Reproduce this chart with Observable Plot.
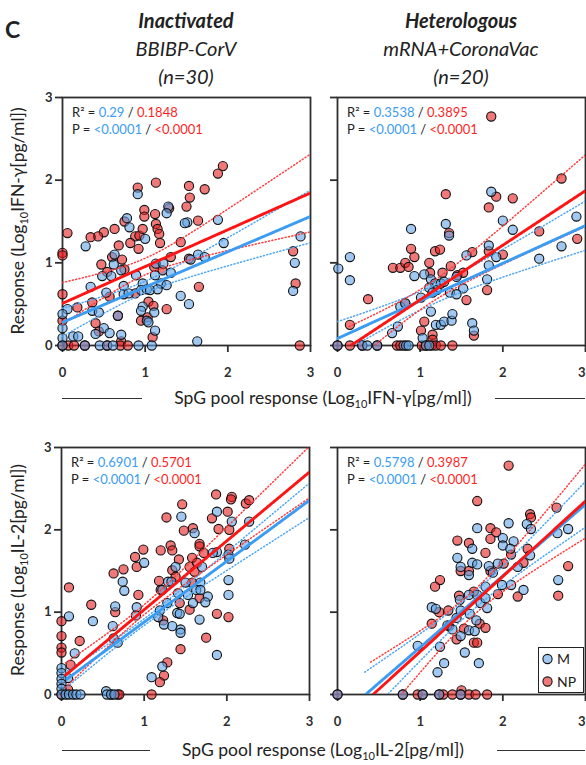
<!DOCTYPE html>
<html><head><meta charset="utf-8">
<script src="https://cdn.jsdelivr.net/npm/d3@7"></script>
<script src="https://cdn.jsdelivr.net/npm/@observablehq/plot@0.6"></script>
<style>
html,body{margin:0;padding:0;background:#fff;overflow:hidden;}
#fig{position:relative;width:586px;height:765px;font-family:Lato,"Open Sans",sans-serif;color:#222;overflow:hidden;}
.abs{position:absolute;}
.ttl{position:absolute;width:300px;margin-left:-150px;text-align:center;font-size:20px;font-style:italic;line-height:28px;white-space:nowrap;}
.axt{position:absolute;font-size:17.5px;white-space:nowrap;transform:translate(-50%,-50%);line-height:20px;}
.axt sub{font-size:11px;vertical-align:-4px;line-height:0;}
.bar{position:absolute;height:0;border-top:1.6px solid #333;}
.fit{position:absolute;font-size:13px;line-height:16.5px;white-space:nowrap;color:#222;}
.fit .m{color:#3a9cf2;} .fit .n{color:#ff1f1f;}
</style></head>
<body><div id="fig"></div>
<script>
// ---------------- data ----------------
const groupNames = ["Inactivated", "Heterologous"];
const groupVaccines = ["BBIBP-CorV", "mRNA+CoronaVac"];
const groupN = ["(n=30)", "(n=20)"];
const cytokines = ["IFN-γ", "IL-2"];
const tickValues = [0, 1, 2, 3];

// [x, y] = [SpG pool response, response] (log10 pg/ml)
const ifnInactM = [[0.91,1.83],[1.28,1.68],[1.26,1.60],[1.88,1.52],[1.51,1.49],[1.48,1.48],[0.78,1.54],[0.81,1.43],[1.00,1.29],[1.95,1.24],[0.28,1.20],[0.63,1.10],[0.62,0.98],[0.71,0.91],[1.13,0.99],[1.22,0.99],[1.31,0.88],[1.64,1.10],[1.72,1.07],[1.55,1.04],[1.12,0.85],[0.89,0.85],[0.48,0.84],[0.59,0.84],[0.34,0.71],[0.74,0.72],[0.97,0.75],[1.19,0.75],[1.26,0.73],[1.43,0.60],[1.53,0.50],[0.74,0.62],[0.80,0.63],[0.53,0.64],[0.95,0.67],[1.02,0.68],[1.06,0.67],[1.15,0.68],[0.06,0.44],[0,0.38],[0.36,0.42],[0.44,0.40],[0.97,0.47],[0.95,0.42],[1.02,0.30],[1.04,0.28],[1.11,0.40],[0.67,0.36],[0,0.21],[0.40,0.14],[0.50,0.21],[0.57,0.15],[0.13,0.11],[0.19,0.11],[0.71,0.13],[1.12,0.18],[0,0.09],[1.63,0.05],[2.79,0.66],[2.81,1.00],[2.88,1.32],[0,0],[0.27,0],[0.45,0],[0.54,0],[0.61,0],[0.92,0],[1.08,0]];
const ifnInactNP = [[1.94,2.17],[1.88,2.08],[1.13,1.97],[0.91,1.91],[1.53,1.93],[1.72,1.89],[1.54,1.79],[0.99,1.64],[1.29,1.66],[1.50,1.68],[1.64,1.51],[1.12,1.59],[0.99,1.56],[0.75,1.50],[0.63,1.41],[0.50,1.37],[0.43,1.32],[0.34,1.31],[0.06,1.36],[0,1.12],[0,1.09],[0.88,1.32],[0.93,1.33],[0.97,1.41],[1.13,1.47],[1.15,1.41],[1.17,1.35],[1.18,1.24],[0.68,1.21],[0.82,1.24],[0.92,1.17],[1.43,1.25],[1.31,1.07],[0.60,1.07],[0.72,1.04],[0.47,0.98],[0.75,0.92],[0.54,0.89],[1.53,1.05],[1.11,0.95],[1.21,0.91],[2.79,1.14],[2.82,0.75],[1.65,0.71],[0.57,0.59],[0,0.62],[0.18,0.46],[0.36,0.52],[1.04,0.53],[0.88,0.63],[1.26,0.44],[0.40,0.27],[0.95,0.30],[1.03,0.34],[1.09,0.10],[0,0.30],[0.44,0.17],[0.71,0.05],[0.67,0.36],[1.10,0.48],[0,0],[0.07,0],[0.14,0],[0.27,0],[0.54,0],[0.70,0],[0.79,0],[2.87,0]];
const ifnHeteroM = [[1.86,1.86],[1.31,1.47],[2.00,1.51],[2.12,1.40],[2.89,1.56],[0.89,1.41],[1.35,1.33],[1.83,1.21],[1.56,1.09],[1.92,1.07],[2.44,1.05],[2.71,1.20],[1.83,0.97],[0.15,1.07],[0.15,0.79],[0.01,0.93],[0.93,0.84],[1.05,0.86],[1.13,0.80],[1.18,0.75],[1.20,0.67],[1.25,0.75],[1.29,0.77],[1.11,0.70],[1.15,0.64],[1.44,0.83],[1.52,0.69],[1.36,0.64],[1.44,0.62],[1.81,0.80],[1.01,0.58],[0.76,0.47],[0.82,0.51],[0.73,0.23],[0.66,0.15],[1.13,0.41],[1.19,0.25],[1.25,0.25],[1.29,0.29],[1.38,0.30],[1.39,0.38],[1.63,0.27],[1.65,0.18],[1.03,0.09],[0,0],[0.30,0],[0.36,0],[0.48,0],[0.80,0],[0.83,0],[0.86,0],[1.07,0],[1.11,0]];
const ifnHeteroNP = [[1.86,2.77],[2.71,2.02],[1.31,1.83],[1.92,1.80],[2.12,1.78],[1.83,1.67],[2.44,1.38],[2.90,1.29],[1.35,1.36],[0.89,1.17],[0.93,1.07],[1.18,1.14],[1.24,1.16],[1.63,1.13],[1.83,1.14],[2.00,1.10],[0.67,0.94],[0.76,0.94],[0.82,1.00],[0.86,0.95],[1.11,1.00],[1.12,0.88],[1.27,0.88],[1.37,0.96],[1.45,0.85],[1.52,0.88],[1.81,0.67],[0.37,0.56],[1.56,0.55],[0.15,0.25],[1.05,0.29],[1.01,0.18],[1.15,0.13],[1.15,0.07],[1.65,0.12],[0.82,0.51],[0,0],[0.15,0],[0.30,0],[0.48,0],[0.72,0],[0.76,0],[1.02,0],[1.07,0],[1.14,0],[1.19,0],[1.25,0],[1.39,0]];
const il2InactM = [[1.88,2.22],[1.45,2.16],[1.61,1.96],[1.00,1.60],[1.38,1.55],[1.88,1.73],[1.83,1.72],[2.02,1.70],[2.03,1.65],[2.22,1.82],[2.27,2.10],[2.06,2.10],[0.74,1.37],[0.76,1.26],[1.29,1.37],[1.33,1.37],[1.50,1.36],[1.68,1.36],[1.63,1.27],[1.68,1.27],[1.22,1.27],[1.41,1.23],[1.53,1.21],[1.70,1.55],[1.77,1.19],[1.28,1.11],[1.59,1.11],[1.74,1.12],[0.91,1.06],[0.65,1.07],[1.19,1.02],[1.40,0.99],[1.43,0.98],[2.02,1.21],[2.02,1.39],[0.38,0.89],[0.09,0.95],[0.90,0.96],[1.17,0.94],[1.67,0.91],[1.24,0.85],[1.34,0.83],[1.44,0.79],[1.44,0.75],[0.62,0.83],[0.63,0.68],[0.68,0.63],[0.16,0.50],[1.88,0.48],[1.22,0.34],[1.09,0.21],[0.08,0.20],[0,0.32],[0,0.26],[0,0.19],[0,0.13],[0,0.07],[0.54,0.04],[0,0],[0.05,0],[0.09,0],[0.14,0],[0.18,0],[0.23,0],[0.55,0],[0.60,0],[0.64,0]];
const il2InactNP = [[1.87,2.43],[2.06,2.40],[2.05,2.37],[2.23,2.32],[2.27,2.36],[1.46,2.31],[1.82,2.14],[2.01,2.22],[1.27,2.15],[1.59,2.02],[1.48,1.99],[1.90,2.01],[2.03,2.00],[1.32,1.81],[1.34,1.75],[1.67,1.83],[1.67,1.80],[0.99,1.76],[0.89,1.67],[1.20,1.75],[1.72,1.72],[1.42,1.64],[1.58,1.66],[2.03,1.77],[0.75,1.52],[0.91,1.55],[0.63,1.47],[1.34,1.51],[1.38,1.43],[1.55,1.55],[1.64,1.60],[1.61,1.49],[1.18,1.38],[1.20,1.27],[1.58,1.36],[0.93,1.21],[0.09,1.30],[0.36,1.09],[0.65,1.00],[1.43,1.11],[1.67,1.17],[1.55,1.03],[1.23,0.90],[1.88,0.98],[2.02,0.94],[0,0.89],[0,0.71],[0,0.57],[0,0.51],[0.22,0.65],[0.11,0.36],[1.75,0.69],[1.44,0.55],[1.28,0.39],[1.24,0.23],[1.19,0.15],[0.08,0.06],[1.09,0],[0,0],[0.60,0],[0.68,0],[0.70,0]];
const il2HeteroM = [[1.69,2.02],[2.07,2.08],[2.29,2.07],[2.34,2.01],[2.79,2.01],[2.66,1.96],[2.00,1.90],[2.13,1.86],[2.00,1.81],[2.09,1.77],[1.63,1.77],[1.45,1.66],[1.63,1.60],[1.69,1.58],[1.94,1.59],[1.49,1.55],[1.83,1.56],[1.88,1.48],[1.59,1.45],[2.18,1.55],[2.33,1.69],[2.67,1.39],[1.99,1.33],[2.10,1.33],[2.25,1.27],[1.79,1.31],[1.59,1.21],[1.69,1.21],[1.48,1.15],[1.73,1.11],[1.79,1.17],[1.14,1.06],[1.19,1.04],[1.49,1.02],[1.81,1.05],[1.60,0.98],[1.44,0.93],[1.68,0.90],[1.33,0.84],[1.39,0.79],[1.59,0.78],[1.66,0.77],[1.49,0.71],[0.97,0.59],[1.24,0.58],[1.54,0.51],[1.29,0.38],[1.71,0.38],[1.21,0.27],[0,0],[0.79,0],[1.03,0],[1.23,0],[1.49,0]];
const il2HeteroNP = [[2.07,2.78],[1.69,2.35],[2.65,2.27],[2.33,2.19],[2.34,2.15],[1.85,2.02],[1.92,1.97],[1.45,1.87],[1.59,1.84],[1.85,1.89],[2.10,1.70],[2.30,1.77],[1.79,1.72],[2.01,1.59],[2.25,1.60],[2.79,1.56],[1.49,1.50],[1.59,1.50],[1.85,1.50],[1.24,1.39],[1.18,1.31],[1.47,1.20],[1.65,1.25],[1.94,1.22],[2.18,1.19],[2.67,1.20],[1.34,1.02],[1.23,1.00],[1.14,0.86],[1.35,0.83],[1.53,0.80],[1.72,0.86],[1.79,0.81],[1.44,0.67],[1.65,0.63],[1.69,0.63],[1.50,0.05],[0,0],[0.79,0],[0.97,0],[1.03,0],[1.23,0],[1.28,0],[1.39,0],[1.49,0],[1.59,0],[1.67,0],[1.81,0]];

// fitted regression lines (panel order: IFN inact, IFN hetero, IL-2 inact, IL-2 hetero)
const fitInterceptM  = [0.28, 0.085, 0.139, -0.295];
const fitSlopeM      = [0.427, 0.455, 0.74, 0.868];
const fitInterceptNP = [0.51, -0.107, 0.194, -0.393];
const fitSlopeNP     = [0.445, 0.66, 0.836, 0.914];
// 95% confidence band: half-width = sqrt(min^2 + spread^2 * (x - center)^2)
const ciMinM      = [0.07, 0.11, 0.04, 0.10];
const ciCenterM   = [1.0, 1.15, 0.95, 1.67];
const ciSpreadM   = [0.155, 0.15, 0.10, 0.195];
const ciMinNP     = [0.10, 0.12, 0.06, 0.15];
const ciCenterNP  = [1.0, 1.1, 0.95, 1.65];
const ciSpreadNP  = [0.23, 0.22, 0.15, 0.314];
const fitStartM   = [0, 0, 0.07, 0.33];
const fitStartNP  = [0, 0.14, 0.05, 0.40];

const r2M  = ["0.29", "0.3538", "0.6901", "0.5798"];
const r2NP = ["0.1848", "0.3895", "0.5701", "0.3987"];
const pM   = ["<0.0001", "<0.0001", "<0.0001", "<0.0001"];
const pNP  = ["<0.0001", "<0.0001", "<0.0001", "<0.0001"];
const seriesNames = ["M", "NP"];

// ---------------- drawing ----------------
const fig = document.getElementById("fig");
const COL = {mFill:"#61a3e6", nFill:"#e61e1e", mLine:"#3a9cf2", nLine:"#ff1414", mDot:"#4ea6f5", nDot:"#ff3b3b", axis:"#2e2e2e"};

function band(a, b, h, xm, k, x0) {
  return d3.range(x0, 3.0001, 0.01).map(x => {
    const f = a + b * x, hw = Math.sqrt(h * h + k * k * (x - xm) * (x - xm));
    return {x, fit: f, lo: f - hw, hi: f + hw};
  });
}

const datasets = [[ifnInactM, ifnInactNP], [ifnHeteroM, ifnHeteroNP], [il2InactM, il2InactNP], [il2HeteroM, il2HeteroNP]];
// panel placement (svg box and margins)
const boxes = [
  {left:0,   top:80,  w:320, h:300, ml:62, mr:10, mt:17, mb:35, left0:true},
  {left:320, top:80,  w:266, h:300, ml:17, mr:1,  mt:17, mb:35, left0:false},
  {left:0,   top:430, w:320, h:300, ml:61, mr:11, mt:17, mb:36, left0:true},
  {left:320, top:430, w:266, h:300, ml:17, mr:1,  mt:17, mb:36, left0:false}
];

datasets.forEach(([M, NP], i) => {
  const B = boxes[i];
  const bM = band(fitInterceptM[i], fitSlopeM[i], ciMinM[i], ciCenterM[i], ciSpreadM[i], fitStartM[i]);
  const bN = band(fitInterceptNP[i], fitSlopeNP[i], ciMinNP[i], ciCenterNP[i], ciSpreadNP[i], fitStartNP[i]);
  const dotted = {strokeWidth: 1.5, strokeDasharray: "1,2.4", clip: true};
  const xAxes = B.left0
    ? [Plot.axisX({ticks: tickValues, tickSize: 7, tickPadding: 15, tickFormat: d => String(d), label: null, strokeWidth: 1.8})]
    : [Plot.axisX({ticks: tickValues, tickSize: 7, tickPadding: 15, tickFormat: d => (d === 3 ? "" : String(d)), label: null, strokeWidth: 1.8}),
       Plot.axisX({ticks: [3], tickSize: 0, tickPadding: 22, tickFormat: d => String(d), textAnchor: "end", dx: 0, label: null})];
  const svg = Plot.plot({
    width: B.w, height: B.h,
    marginLeft: B.ml, marginRight: B.mr, marginTop: B.mt, marginBottom: B.mb,
    style: {fontFamily: "Lato, sans-serif", fontSize: "13px", fontWeight: "bold", color: COL.axis, background: "transparent", overflow: "visible"},
    x: {domain: [0, 3]},
    y: {domain: [0, 3]},
    marks: [
      Plot.frame({stroke: COL.axis, strokeWidth: 1.8}),
      ...xAxes,
      Plot.axisY({ticks: tickValues, tickSize: 7, tickPadding: 3, tickFormat: B.left0 ? (d => String(d)) : (() => ""), label: null, strokeWidth: 1.8}),
      Plot.dot(NP, {x: d => d[0], y: d => d[1], r: 4.6, fill: COL.nFill, fillOpacity: 0.6, stroke: "#111", strokeWidth: 1.1}),
      Plot.dot(M,  {x: d => d[0], y: d => d[1], r: 4.6, fill: COL.mFill, fillOpacity: 0.6, stroke: "#111", strokeWidth: 1.1}),
      Plot.line(bM, {x: "x", y: "hi", stroke: COL.mDot, ...dotted}),
      Plot.line(bM, {x: "x", y: "lo", stroke: COL.mDot, ...dotted}),
      Plot.line(bN, {x: "x", y: "hi", stroke: COL.nDot, ...dotted}),
      Plot.line(bN, {x: "x", y: "lo", stroke: COL.nDot, ...dotted}),
      Plot.line(bM, {x: "x", y: "fit", stroke: COL.mLine, strokeWidth: 2.9, clip: true}),
      Plot.line(bN, {x: "x", y: "fit", stroke: COL.nLine, strokeWidth: 2.9, clip: true})
    ]
  });
  const wrap = document.createElement("div");
  wrap.className = "abs";
  wrap.style.left = B.left + "px";
  wrap.style.top = B.top + "px";
  wrap.appendChild(svg);
  fig.appendChild(wrap);

  // fit statistics text
  const t = document.createElement("div");
  t.className = "fit";
  t.style.left = (B.left + B.ml + 10) + "px";
  t.style.top = (B.top + B.mt + 7) + "px";
  t.innerHTML = `R² = <span class="m">${r2M[i]}</span> / <span class="n">${r2NP[i]}</span><br>P = <span class="m">${pM[i]}</span> / <span class="n">${pNP[i]}</span>`;
  fig.appendChild(t);
});

// headings
const add = (html, cls, style) => { const d = document.createElement("div"); d.className = cls; d.innerHTML = html; Object.assign(d.style, style); fig.appendChild(d); return d; };
add("C", "abs", {left: "5px", top: "15px", fontSize: "23px", fontWeight: "bold", lineHeight: "28px"});
[186, 461].forEach((cx, g) => {
  add(`<b>${groupNames[g]}</b><br>${groupVaccines[g]}<br>${groupN[g]}`, "ttl", {left: cx + "px", top: "6px"});
});

// axis titles
[[398, 0], [750, 1]].forEach(([cy, c]) => {
  add(`SpG pool response (Log<sub>10</sub>${cytokines[c]}[pg/ml])`, "axt", {left: "323px", top: cy + "px"});
  add("", "bar", {left: "62px", width: (c ? 88 : 80) + "px", top: cy + "px"});
  add("", "bar", {left: (c ? 497 : 495) + "px", width: (c ? 88 : 90) + "px", top: cy + "px"});
});
[[221, 0], [570, 1]].forEach(([cy, c]) => {
  const d = add(`Response (Log<sub>10</sub>${cytokines[c]}[pg/ml])`, "axt", {left: "18px", top: cy + "px"});
  d.style.transform = "translate(-50%,-50%) rotate(-90deg)";
});

// legend
const lg = add("", "abs", {left: "538px", top: "647px", width: "46px", height: "46px", border: "1.6px solid #222", background: "#fff", boxSizing: "border-box"});
lg.innerHTML = `<svg width="46" height="46" style="position:absolute;left:-1.6px;top:-1.6px;overflow:visible">
  <circle cx="10.5" cy="13" r="4.6" fill="${COL.mFill}" fill-opacity="0.6" stroke="#111" stroke-width="1.1"/>
  <text x="20" y="18" font-family="Lato" font-size="14" fill="#222">${seriesNames[0]}</text>
  <circle cx="10.5" cy="35.5" r="4.6" fill="${COL.nFill}" fill-opacity="0.6" stroke="#111" stroke-width="1.1"/>
  <text x="20" y="40.5" font-family="Lato" font-size="14" fill="#222">${seriesNames[1]}</text></svg>`;
</script>
</body></html>
